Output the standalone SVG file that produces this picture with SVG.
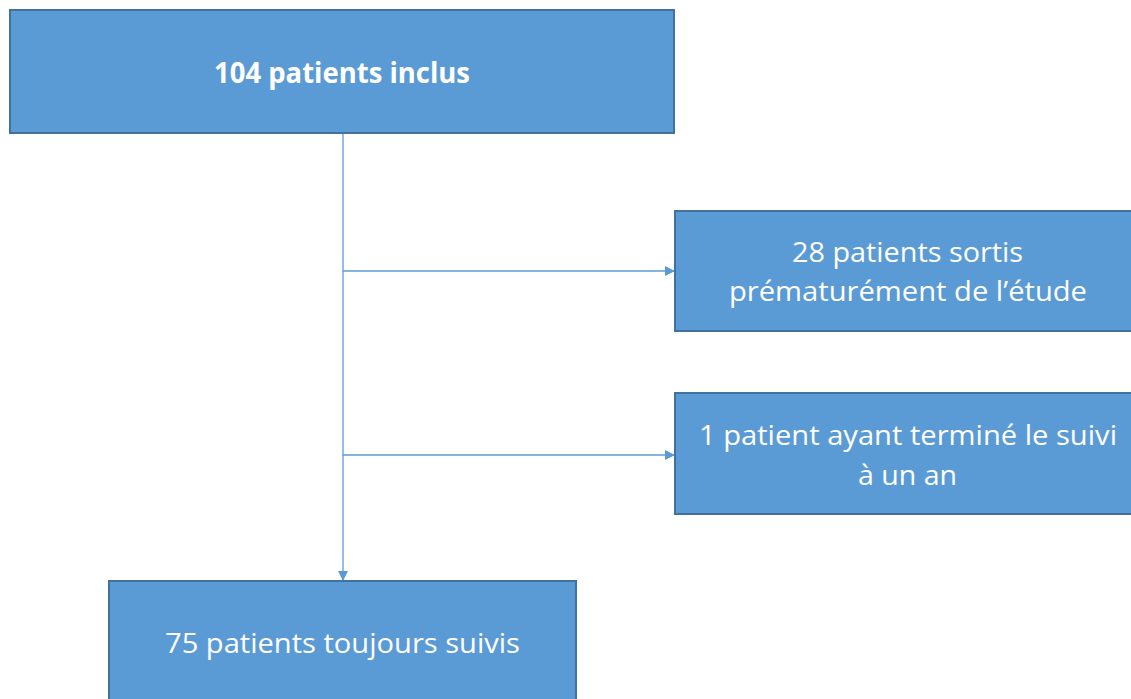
<svg xmlns="http://www.w3.org/2000/svg" width="1131" height="699" viewBox="0 0 1131 699">
<style>
.box{fill:#5B9BD5;stroke:#41719C;stroke-width:2}
.t{font-family:"Open Sans","Liberation Sans",sans-serif;font-size:28px;fill:#FFFFFF}
.b{font-weight:bold}
.c{fill:none;stroke:#5B9BD5;stroke-width:1.3}
</style>
<defs>
<marker id="ah" markerWidth="10" markerHeight="10" refX="9" refY="5" orient="auto" markerUnits="userSpaceOnUse">
<path d="M0,0 L10,5 L0,10 Z" fill="#5B9BD5"/>
</marker>
</defs>
<rect width="1131" height="699" fill="#FFFFFF"/>
<g id="connectors">
<line class="c" x1="343" y1="134" x2="343" y2="580" marker-end="url(#ah)"/>
<line class="c" x1="343" y1="271" x2="674" y2="271" marker-end="url(#ah)"/>
<line class="c" x1="343" y1="455" x2="674" y2="455" marker-end="url(#ah)"/>
</g>
<g id="n1">
<rect class="box" x="10" y="10" width="664" height="123"/>
<text class="t b" x="214" y="83" textLength="256" lengthAdjust="spacingAndGlyphs">104 patients inclus</text>
</g>
<g id="n2">
<rect class="box" x="675" y="211" width="470" height="120"/>
<text class="t" x="792" y="262" textLength="231" lengthAdjust="spacingAndGlyphs">28 patients sortis</text>
<text class="t" x="729" y="301" textLength="358" lengthAdjust="spacingAndGlyphs">prématurément de l’étude</text>
</g>
<g id="n3">
<rect class="box" x="675" y="393" width="470" height="121"/>
<text class="t" x="699" y="445" textLength="418" lengthAdjust="spacingAndGlyphs">1 patient ayant terminé le suivi</text>
<text class="t" x="858" y="485" textLength="99" lengthAdjust="spacingAndGlyphs">à un an</text>
</g>
<g id="n4">
<rect class="box" x="109" y="581" width="467" height="130"/>
<text class="t" x="165" y="653" textLength="355" lengthAdjust="spacingAndGlyphs">75 patients toujours suivis</text>
</g>
</svg>
